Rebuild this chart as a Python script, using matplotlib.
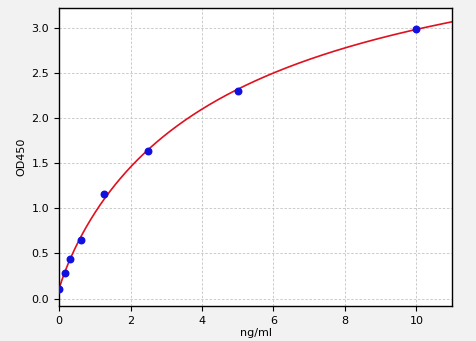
import numpy as np
import matplotlib
matplotlib.use("Agg")
import matplotlib.pyplot as plt

conc = [0, 0.156, 0.3125, 0.625, 1.25, 2.5, 5, 10]
od = [0.11, 0.28, 0.44, 0.65, 1.16, 1.64, 2.30, 2.99]
x_ticks = [0, 2, 4, 6, 8, 10]
y_ticks = [0.0, 0.5, 1.0, 1.5, 2.0, 2.5, 3.0]

x = np.array(conc, float)
y = np.array(od, float)

# 4PL fit: y = d + (a-d)/(1+(x/c)^b); grid over b,c, linear solve for a,d
best = None
for b in np.linspace(0.5, 2.0, 61):
    for c in np.linspace(1, 30, 291):
        g = 1.0 / (1.0 + (x / c) ** b)
        A = np.column_stack([g, 1 - g])
        coef, *_ = np.linalg.lstsq(A, y, rcond=None)
        r = np.sum((A @ coef - y) ** 2)
        if best is None or r < best[0]:
            best = (r, b, c, coef)
_, b, c, (a, d) = best
xs = np.linspace(0, 11, 400)
ys = d + (a - d) / (1 + (xs / c) ** b)

fig = plt.figure(figsize=(4.76, 3.41), dpi=100, facecolor="#f2f2f2")
ax = fig.add_axes([0.124, 0.103, 0.826, 0.874])
ax.set_facecolor("white")
ax.plot(xs, ys, color="#e0101e", lw=1.2, zorder=2)
ax.scatter(x, y, color="#1010e0", s=22, zorder=3)
ax.set_xlim(0, 11)
ax.set_ylim(-0.08, 3.22)
ax.set_xticks(x_ticks)
ax.set_yticks(y_ticks)
ax.grid(True, linestyle=(0, (3, 2)), color="#c4c4c4", lw=0.6)
ax.tick_params(labelsize=8, length=3.5)
ax.set_xlabel("ng/ml", fontsize=8, labelpad=2)
ax.set_ylabel("OD450", fontsize=8)
for s in ax.spines.values():
    s.set_linewidth(1.0)
fig.savefig("out.png", dpi=100, facecolor=fig.get_facecolor())
